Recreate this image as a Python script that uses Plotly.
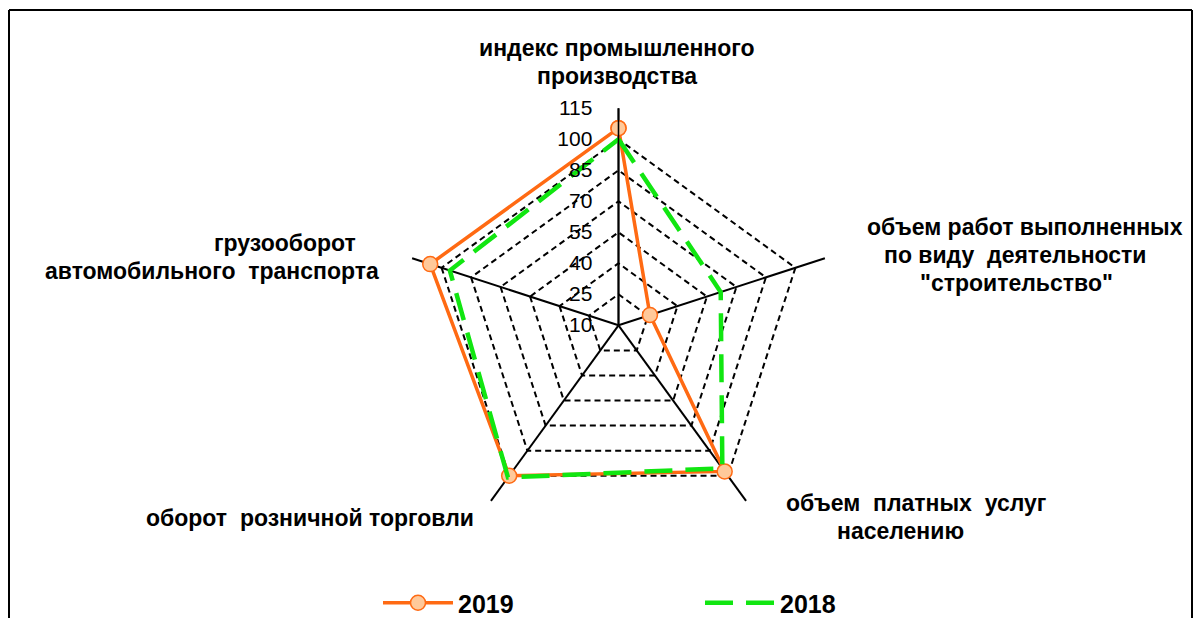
import plotly.graph_objects as go

categories = [
    "индекс промышленного\nпроизводства",
    "объем работ выполненных\nпо виду  деятельности\n\"строительство\"",
    "объем  платных  услуг\nнаселению",
    "оборот  розничной торговли",
    "грузооборот\nавтомобильного  транспорта",
]
values_2019 = [105.4, 26.0, 97.4, 100.0, 105.8]
values_2018 = [100.0, 62.0, 95.5, 101.0, 95.8]
radial_ticks = [10, 25, 40, 55, 70, 85, 100, 115]
series_names = ["2019", "2018"]

FONT = "Arial, Liberation Sans, sans-serif"
OFF = 8                      # page body margin
W, H = 1201 - 2 * OFF, 626 - 2 * OFF


def px(x):
    return (x - OFF) / W


def py(y):
    return 1 - (y - OFF) / H


theta = [c.replace("\n", " ") for c in categories]

fig = go.Figure()
fig.add_trace(go.Scatterpolar(
    r=values_2019 + values_2019[:1], theta=theta + theta[:1],
    name=series_names[0], mode="lines+markers",
    line=dict(color="#FF6A13", width=3.5),
    marker=dict(size=15, color="#FFC99A", line=dict(color="#FF6A13", width=1.5)),
))
fig.add_trace(go.Scatterpolar(
    r=values_2018 + values_2018[:1], theta=theta + theta[:1],
    name=series_names[1], mode="lines",
    line=dict(color="#11E611", width=4.5, dash="28px,13px"),
))

# center (618.5, 325.3) px in page, radius 217 px
cx, cy, R = 618.5, 325.3, 217
fig.update_layout(
    width=W, height=H,
    margin=dict(l=0, r=0, t=0, b=0, autoexpand=False),
    paper_bgcolor="white", plot_bgcolor="white",
    font=dict(family=FONT, color="black"),
    polar=dict(
        domain=dict(x=[px(cx - R), px(cx + R)], y=[py(cy + R), py(cy - R)]),
        bgcolor="white",
        gridshape="linear",
        radialaxis=dict(
            range=[radial_ticks[0], radial_ticks[-1]],
            tickvals=radial_ticks, ticktext=[str(v) for v in radial_ticks],
            angle=90, side="counterclockwise", tickangle=90,
            showline=True, linecolor="black", linewidth=1.6,
            ticks="outside", ticklen=18, tickcolor="rgba(0,0,0,0)",
            showgrid=True, gridcolor="black", gridwidth=1.5, griddash="6px,4px",
            tickfont=dict(size=21, family=FONT, color="black"),
        ),
        angularaxis=dict(
            rotation=90, direction="clockwise",
            categoryorder="array", categoryarray=theta,
            showgrid=True, gridcolor="black", gridwidth=1.6,
            showline=False, ticks="", showticklabels=False,
        ),
    ),
    showlegend=True,
    legend=dict(
        orientation="h", x=px(378), xanchor="left", y=py(603), yanchor="middle",
        font=dict(size=25, family=FONT, color="black", weight="bold"),
        itemwidth=70,
        entrywidth=237, entrywidthmode="pixels",
        bgcolor="rgba(0,0,0,0)",
    ),
)

# category labels as annotations (one per line)
label_pos = [
    [(617, 48), (617, 76)],
    [(1025, 227), (1015, 255), (1017, 283)],
    [(916, 503), (900, 531)],
    [(310, 518)],
    [(285, 243), (212, 271)],
]
for cat, poss in zip(categories, label_pos):
    for line, (x, y) in zip(cat.split("\n"), poss):
        fig.add_annotation(
            x=px(x), y=py(y), xref="paper", yref="paper",
            text=line, showarrow=False, xanchor="center", yanchor="middle",
            font=dict(size=23, family=FONT, color="black", weight="bold"),
        )

# chart frame
line_style = dict(color="black", width=2)
fig.add_shape(type="line", xref="paper", yref="paper", x0=px(9), x1=px(9), y0=0, y1=py(10), line=line_style)
fig.add_shape(type="line", xref="paper", yref="paper", x0=px(9), x1=px(1192), y0=py(10), y1=py(10), line=line_style)
fig.add_shape(type="line", xref="paper", yref="paper", x0=px(1192), x1=px(1192), y0=0, y1=py(10), line=line_style)

fig.write_html("out.html")
